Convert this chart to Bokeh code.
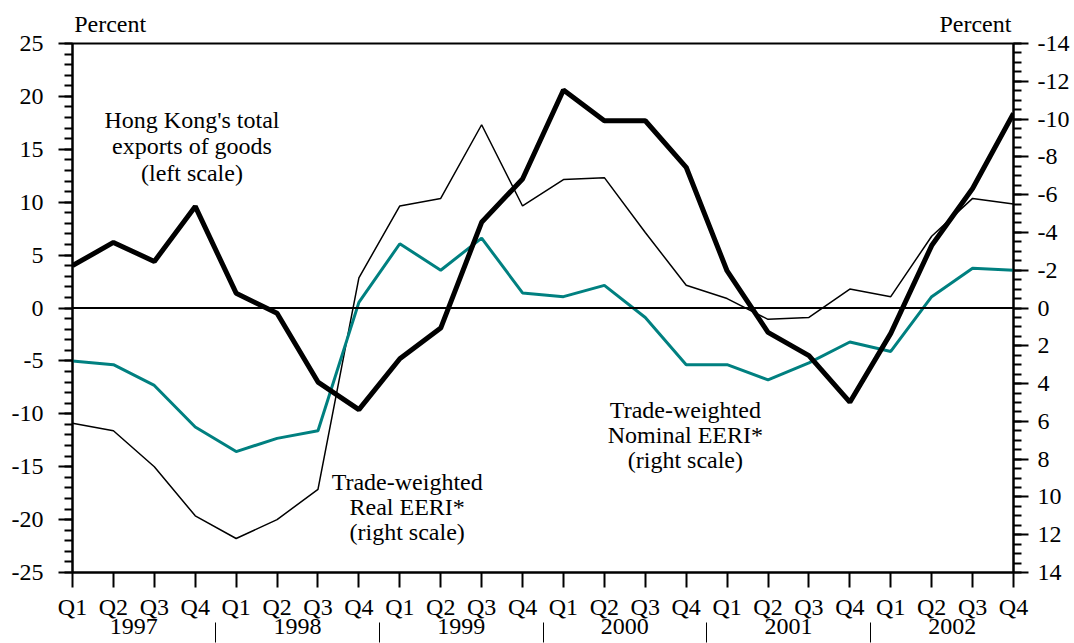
from bokeh.plotting import figure
from bokeh.models import (Range1d, LinearAxis, SingleIntervalTicker, FixedTicker,
                          Span, ColumnDataSource)
from bokeh.embed import file_html
from bokeh.resources import INLINE
from bokeh.core.properties import value

# ---------------- data ----------------
quarters = ["Q1", "Q2", "Q3", "Q4"] * 6
years = ["1997", "1998", "1999", "2000", "2001", "2002"]
idx = list(range(24))

# Hong Kong's total exports of goods, % (left scale)
exports = [4.0, 6.2, 4.4, 9.6, 1.4, -0.5, -7.0, -9.6, -4.8, -1.9, 8.1, 12.2,
           20.6, 17.7, 17.7, 13.3, 3.5, -2.3, -4.5, -8.9, -2.4, 5.9, 11.3, 18.4]
# Trade-weighted Real EERI, % (right scale, inverted)
real_eeri = [6.1, 6.5, 8.4, 11.0, 12.2, 11.2, 9.6, -1.6, -5.4, -5.8, -9.7, -5.4,
             -6.8, -6.9, -4.0, -1.2, -0.5, 0.6, 0.5, -1.0, -0.6, -3.8, -5.8, -5.5]
# Trade-weighted Nominal EERI, % (right scale, inverted)
nominal_eeri = [2.8, 3.0, 4.1, 6.3, 7.6, 6.9, 6.5, -0.3, -3.4, -2.0, -3.7, -0.8,
                -0.6, -1.2, 0.5, 3.0, 3.0, 3.8, 2.9, 1.8, 2.3, -0.6, -2.1, -2.0]

left_tick_values = list(range(-25, 26, 5))
right_tick_values = list(range(-14, 15, 2))
unit_label = "Percent"
unit_label_pos = [0.92, 22.07]

# annotation texts (x in quarter index, y in left-scale units)
ann_text = ["Hong Kong's total", "exports of goods", "(left scale)",
            "Trade-weighted", "Real EERI*", "(right scale)",
            "Trade-weighted", "Nominal EERI*", "(right scale)"]
ann_x = [2.92, 2.92, 2.92, 8.18, 8.18, 8.18, 14.98, 14.98, 14.98]
ann_y = [17.8, 15.3, 12.8, -16.4, -18.85, -21.2, -9.6, -12.05, -14.4]

FONT = "Liberation Serif"
FS = "24px"
TEAL = "#008080"

p = figure(width=1074, height=643, x_range=Range1d(0, 23), y_range=Range1d(-25, 25),
           x_axis_type=None, y_axis_type=None, output_backend="svg",
           toolbar_location=None, min_border_left=72, min_border_right=61,
           min_border_top=43, min_border_bottom=71)
p.extra_y_ranges = {"right": Range1d(start=14, end=-14)}
p.outline_line_color = "black"
p.outline_line_width = 2
p.background_fill_color = "white"
p.border_fill_color = "white"


def style_axis(ax):
    ax.axis_line_width = 2
    ax.major_tick_line_width = 2
    ax.minor_tick_line_width = 2
    ax.major_label_text_font = FONT
    ax.major_label_text_font_size = FS
    ax.major_label_text_color = "black"
    ax.major_tick_in = 0
    ax.minor_tick_in = 0


left = LinearAxis(ticker=SingleIntervalTicker(interval=5, num_minor_ticks=5),
                  major_label_overrides={v: str(v) for v in left_tick_values},
                  major_tick_out=14, minor_tick_out=8, major_label_standoff=15)
style_axis(left)
p.add_layout(left, "left")

right = LinearAxis(y_range_name="right",
                   ticker=SingleIntervalTicker(interval=2, num_minor_ticks=4),
                   major_label_overrides={v: str(v) for v in right_tick_values},
                   major_tick_out=15, minor_tick_out=8, major_label_standoff=9)
style_axis(right)
p.add_layout(right, "right")

top = LinearAxis(ticker=FixedTicker(ticks=unit_label_pos, minor_ticks=[]),
                 major_label_overrides={v: unit_label for v in unit_label_pos},
                 major_tick_out=0, minor_tick_out=0, major_label_standoff=7)
style_axis(top)
top.axis_line_color = None
top.major_tick_line_color = None
p.add_layout(top, "above")

qax = LinearAxis(ticker=FixedTicker(ticks=idx, minor_ticks=[]),
                 major_label_overrides={i: q for i, q in zip(idx, quarters)},
                 major_tick_out=15, minor_tick_out=0, major_label_standoff=6)
style_axis(qax)
p.add_layout(qax, "below")

year_pos = [1.5 + 4 * k for k in range(len(years))]
sep_pos = [3.5 + 4 * k for k in range(len(years) - 1)]
yax = LinearAxis(ticker=FixedTicker(ticks=year_pos, minor_ticks=sep_pos),
                 major_label_overrides={y: t for y, t in zip(year_pos, years)},
                 major_tick_out=0, minor_tick_out=20, major_label_standoff=-24)
style_axis(yax)
yax.axis_line_color = None
yax.major_tick_line_color = None
yax.minor_tick_line_width = 1
p.add_layout(yax, "below")

p.add_layout(Span(location=0, dimension="width", line_color="black", line_width=2))

p.line(idx, real_eeri, y_range_name="right", line_color="black", line_width=1.5)
p.line(idx, nominal_eeri, y_range_name="right", line_color=TEAL, line_width=3)
p.line(idx, exports, line_color="black", line_width=5)

src = ColumnDataSource(dict(x=ann_x, y=ann_y, t=ann_text))
p.text(x="x", y="y", text="t", source=src, text_font=value(FONT), text_font_size=FS,
       text_align="center", text_baseline="middle", text_color="black")

open("out.html", "w").write(file_html(p, INLINE))
